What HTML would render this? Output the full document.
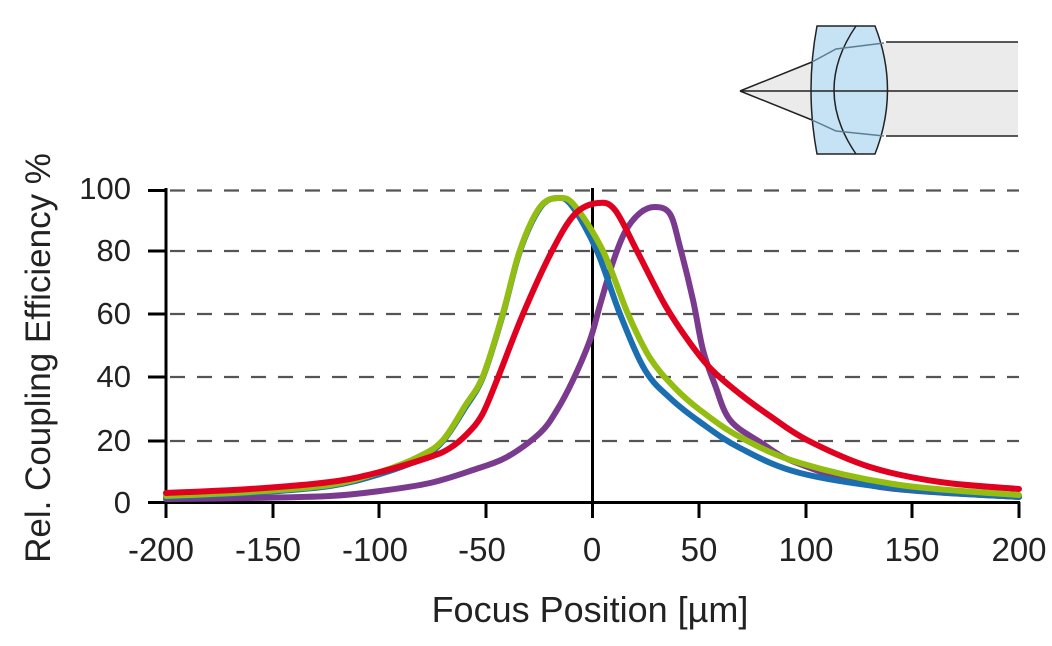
<!DOCTYPE html>
<html><head><meta charset="utf-8"><style>
html,body{margin:0;padding:0;background:#fff;}
svg{display:block;font-family:"Liberation Sans",sans-serif;}
</style></head><body>
<svg id="s" width="1052" height="646" viewBox="0 0 1052 646">
<polygon points="740,91 812,62 890,42 1018,42 1018,136 890,136 812,120" fill="#ebebeb"/>
<line x1="886" y1="42" x2="1018" y2="42" stroke="#222" stroke-width="1.5"/>
<line x1="886" y1="136" x2="1018" y2="136" stroke="#222" stroke-width="1.5"/>
<path d="M817,26 L875,26 Q900,90 875,154 L817,154 Q805,90 817,26 Z" fill="#c5e3f5" stroke="#222" stroke-width="1.5"/>
<path d="M856,26 Q812,90 856,154" fill="none" stroke="#222" stroke-width="1.5"/>
<line x1="740" y1="91" x2="1018" y2="91" stroke="#222" stroke-width="1.5"/>
<line x1="740" y1="91" x2="812" y2="62" stroke="#222" stroke-width="1.5"/>
<line x1="740" y1="91" x2="812" y2="120" stroke="#222" stroke-width="1.5"/>
<polyline points="812,62 836,49 884,43" fill="none" stroke="#5a7f93" stroke-width="1.5"/>
<polyline points="812,120 836,131 884,136" fill="none" stroke="#5a7f93" stroke-width="1.5"/>
<g stroke="#555" stroke-width="2.2" stroke-dasharray="15,12">
<line x1="170" y1="190.5" x2="1019" y2="190.5"/>
<line x1="170" y1="251" x2="1019" y2="251"/>
<line x1="170" y1="314" x2="1019" y2="314"/>
<line x1="170" y1="377" x2="1019" y2="377"/>
<line x1="170" y1="441" x2="1019" y2="441"/>
</g>
<g stroke="#000" stroke-width="3">
<line x1="166" y1="188" x2="166" y2="518"/>
<line x1="148" y1="502.5" x2="1020" y2="502.5"/>
<line x1="592.5" y1="188" x2="592.5" y2="518"/>
<line x1="148" y1="190.5" x2="166" y2="190.5"/>
<line x1="148" y1="251" x2="166" y2="251"/>
<line x1="148" y1="314" x2="166" y2="314"/>
<line x1="148" y1="377" x2="166" y2="377"/>
<line x1="148" y1="441" x2="166" y2="441"/>
<line x1="273" y1="502" x2="273" y2="518"/>
<line x1="379" y1="502" x2="379" y2="518"/>
<line x1="486" y1="502" x2="486" y2="518"/>
<line x1="699" y1="502" x2="699" y2="518"/>
<line x1="806" y1="502" x2="806" y2="518"/>
<line x1="912" y1="502" x2="912" y2="518"/>
<line x1="1019" y1="502" x2="1019" y2="518"/>
</g>
<g font-size="31" fill="#222" text-anchor="end">
<text x="131" y="199">100</text><text x="131" y="261">80</text><text x="131" y="324">60</text>
<text x="131" y="387">40</text><text x="131" y="451">20</text><text x="131" y="513">0</text>
</g>
<g font-size="33" fill="#222" text-anchor="middle">
<text x="161" y="561">-200</text><text x="268" y="561">-150</text><text x="375" y="561">-100</text>
<text x="482" y="561">-50</text><text x="592" y="561">0</text><text x="699" y="561">50</text>
<text x="806" y="561">100</text><text x="912" y="561">150</text><text x="1019" y="561">200</text>
<text x="590" y="622" font-size="36">Focus Position [µm]</text>
<text transform="translate(50,358) rotate(-90)" font-size="35">Rel. Coupling Efficiency %</text>
</g>
<g id="curves" fill="none" stroke-width="6" stroke-linecap="round" stroke-linejoin="round"></g>
</svg>
<script>
function cr(p){var d="M"+p[0][0]+","+p[0][1];for(var i=0;i<p.length-1;i++){var a=p[i-1]||p[i],b=p[i],c=p[i+1],e=p[i+2]||c;
d+=" C"+(b[0]+(c[0]-a[0])/6)+","+(b[1]+(c[1]-a[1])/6)+" "+(c[0]-(e[0]-b[0])/6)+","+(c[1]-(e[1]-b[1])/6)+" "+c[0]+","+c[1];}return d;}
var S={
"#7a3b8f":[[166,499],[250,498],[330,496],[380,491],[430,483],[473,470],[507,457],[540,433],[557,410],[573,380],[590,340],[600,305],[613,262],[625,232],[640,213],[655,207],[670,214],[680,247],[693,300],[703,350],[715,385],[730,420],[760,442],[797,463],[880,487],[1019,497]],
"#1b6fb0":[[166,497],[250,493],[330,486],[380,474],[420,459],[443,441],[465,408],[483,377],[503,314],[520,251],[540,208],[557,198],[572,206],[597,251],[620,314],[645,370],[670,398],[700,422],[740,448],[800,473],[900,489],[1019,497]],
"#93bd10":[[166,496],[250,492],[330,485],[380,472],[420,456],[443,440],[465,406],[483,376],[503,313],[520,250],[540,207],[559,198],[575,206],[603,251],[628,314],[650,358],[675,388],[700,410],[740,437],[800,463],[900,485],[1019,495]],
"#e0001f":[[166,493],[250,489],[330,482],[380,472],[430,457],[450,448],[467,434],[482,415],[497,380],[523,314],[552,251],[575,214],[598,203],[615,210],[637,251],[665,305],[690,343],[712,370],[740,394],[770,416],[807,440],[870,467],[940,482],[1019,489]]};
var g=document.getElementById("curves");
for(var k in S){var p=document.createElementNS("http://www.w3.org/2000/svg","path");p.setAttribute("d",cr(S[k]));p.setAttribute("stroke",k);g.appendChild(p);}
</script>
</body></html>
